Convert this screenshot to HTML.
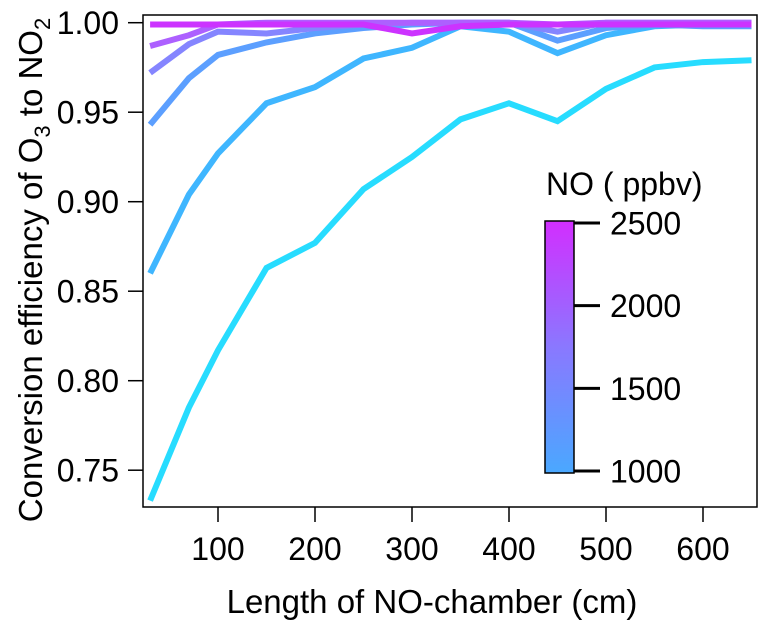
<!DOCTYPE html>
<html><head><meta charset="utf-8"><style>
body{margin:0;background:#fff}
svg{display:block;font-family:"Liberation Sans",sans-serif}
</style></head><body>
<svg id="chart" width="766" height="635" viewBox="0 0 766 635">
<defs>
<linearGradient id="cb" x1="0" y1="1" x2="0" y2="0">
<stop offset="0" stop-color="#4aa8ff"/><stop offset="0.5" stop-color="#8a78ff"/><stop offset="1" stop-color="#d22eff"/>
</linearGradient>
<clipPath id="pc"><rect x="143" y="15" width="614" height="492"/></clipPath>
</defs>
<g id="series" clip-path="url(#pc)"></g>
<rect x="143" y="15" width="614" height="492" fill="none" stroke="#000" stroke-width="1.5"/>
<g id="axes"></g>
<text x="42" y="270" transform="rotate(-90 42 270)" text-anchor="middle" font-size="33">Conversion efficiency of O<tspan font-size="22" dy="8">3</tspan><tspan dy="-8"> to NO</tspan><tspan font-size="22" dy="8">2</tspan></text>
<text x="432" y="613" text-anchor="middle" font-size="33">Length of NO-chamber (cm)</text>
<text x="546" y="195" font-size="32">NO ( ppbv)</text>
<rect x="545" y="221" width="29" height="252" fill="url(#cb)" stroke="#000" stroke-width="1.5"/>
<g id="cbticks"></g>
</svg>
<script>
const xs=[30,70,100,150,200,250,300,350,400,450,500,550,600,650];
const s1=[0.733,0.785,0.817,0.863,0.877,0.907,0.925,0.946,0.955,0.945,0.963,0.975,0.978,0.979];
const s2=[0.860,0.904,0.927,0.955,0.964,0.980,0.986,0.998,0.995,0.983,0.993,0.998,0.999,0.999];
const s3=[0.943,0.969,0.982,0.989,0.994,0.997,0.999,1.0,1.0,0.990,0.997,0.999,0.998,0.998];
const s4=[0.972,0.988,0.995,0.994,0.997,0.999,1.0,1.0,1.0,0.995,1.0,1.0,1.0,1.0];
const s5=[0.987,0.993,0.999,1.0,1.0,1.0,1.0,1.0,1.0,0.999,1.0,1.0,1.0,1.0];
const s6=[0.999,0.999,0.999,0.999,0.999,0.999,0.994,0.998,0.999,0.999,0.999,0.999,0.999,0.999];
const xTicks=[100,200,300,400,500,600];
const yTicks=[0.75,0.80,0.85,0.90,0.95,1.00];
const cbTicks=[1000,1500,2000,2500];
const NS="http://www.w3.org/2000/svg";
const X=v=>121+v*0.97;
const Y=v=>22.7+(1-v)*1790;
const CB=v=>471-(v-1000)/1500*248;
function el(t,a,p){const e=document.createElementNS(NS,t);for(const k in a)e.setAttribute(k,a[k]);p.appendChild(e);return e;}
const g=document.getElementById('series');
const series=[[s1,'#27dcff'],[s2,'#3fb6ff'],[s3,'#5c9fff'],[s4,'#8585ff'],[s5,'#ad60ff'],[s6,'#cc33ff']];
series.forEach((s,i)=>{
 const p=el('polyline',{points:xs.map((x,j)=>X(x)+','+Y(s[0][j])).join(' '),fill:'none',stroke:s[1],'stroke-width':6,'stroke-linejoin':'miter'},g);
 
 
});
const a=document.getElementById('axes');
xTicks.forEach(t=>{
 const l=el('line',{x1:X(t),x2:X(t),y1:507,y2:522,stroke:'#000','stroke-width':1.5},a);
 
 
 const tx=el('text',{x:X(t),y:560,'text-anchor':'middle','font-size':32},a);tx.textContent=t;
 
 
});
yTicks.forEach(t=>{
 const l=el('line',{x1:128,x2:143,y1:Y(t),y2:Y(t),stroke:'#000','stroke-width':1.5},a);
 
 
 const tx=el('text',{x:119,y:Y(t)+11.5,'text-anchor':'end','font-size':32},a);tx.textContent=t.toFixed(2);
 
 
});
const c=document.getElementById('cbticks');
cbTicks.forEach(t=>{
 const l=el('line',{x1:574,x2:600,y1:CB(t),y2:CB(t),stroke:'#000','stroke-width':3},c);
 
 
 const tx=el('text',{x:610,y:CB(t)+11.5,'font-size':32},c);tx.textContent=t;
 
 
});
</script>
</body></html>
